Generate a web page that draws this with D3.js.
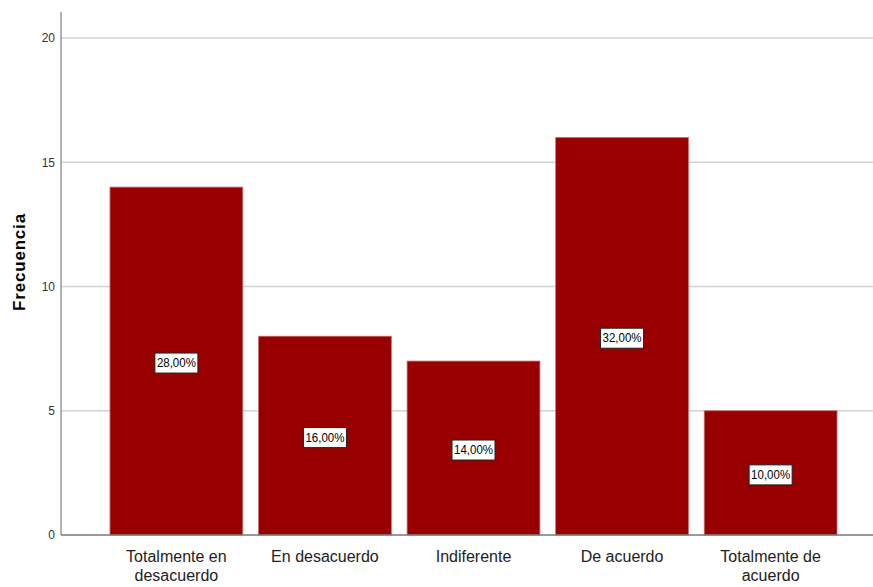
<!DOCTYPE html>
<html><head><meta charset="utf-8">
<script src="https://cdn.jsdelivr.net/npm/d3@7"></script>
<style>body{margin:0;background:#fff}</style>
</head><body>
<script>
const categories = ["Totalmente en desacuerdo","En desacuerdo","Indiferente","De acuerdo","Totalmente de acuerdo"];
const categoryLines = [["Totalmente en","desacuerdo"],["En desacuerdo"],["Indiferente"],["De acuerdo"],["Totalmente de","acuerdo"]];
const frequencies = [14, 8, 7, 16, 5];
const percentLabels = ["28,00%","16,00%","14,00%","32,00%","10,00%"];
const yTicks = [0, 5, 10, 15, 20];
const yTitle = "Frecuencia";

const W = 873, H = 587;
const svg = d3.select("body").append("svg").attr("width", W).attr("height", H);

const y = d3.scaleLinear().domain([0, 20]).range([535, 38]);
const x = d3.scaleBand().domain(categories).range([102.1, 844.9]).paddingInner(0.106).paddingOuter(0.053);

const font = "'Liberation Sans', Arial, sans-serif";

// gridlines
svg.append("g").selectAll("line").data(yTicks.filter(t => t > 0)).join("line")
  .attr("x1", 61).attr("x2", 873).attr("y1", d => y(d)).attr("y2", d => y(d))
  .attr("stroke", "#d2d2d2").attr("stroke-width", 1.5);

// bars
svg.append("g").selectAll("rect").data(frequencies).join("rect")
  .attr("x", (d, i) => x(categories[i]))
  .attr("width", x.bandwidth())
  .attr("y", d => y(d))
  .attr("height", d => y(0) - y(d))
  .attr("fill", "#990000")
  .attr("stroke", "#c87070").attr("stroke-width", 0.8);

// y axis
const yAxis = d3.axisLeft(y).tickValues(yTicks).tickSize(0).tickPadding(6);
const ga = svg.append("g").attr("transform", "translate(61,0)").call(yAxis);
ga.select(".domain").remove();
ga.selectAll("text").attr("font-family", font).attr("font-size", 12).attr("fill", "#333");
svg.append("line").attr("x1", 61).attr("x2", 61).attr("y1", 12).attr("y2", 535)
  .attr("stroke", "#999").attr("stroke-width", 1.5);
svg.append("line").attr("x1", 61).attr("x2", 873).attr("y1", 535).attr("y2", 535)
  .attr("stroke", "#777").attr("stroke-width", 1.5);

// y title
svg.append("text").attr("transform", "translate(25,262) rotate(-90)")
  .attr("text-anchor", "middle").attr("font-family", font).attr("font-weight", "bold")
  .attr("font-size", 17).attr("letter-spacing", 0.8).attr("fill", "#000").text(yTitle);

// x labels
const xl = svg.append("g").selectAll("text").data(categoryLines).join("text")
  .attr("x", (d, i) => x(categories[i]) + x.bandwidth() / 2)
  .attr("y", 562)
  .attr("text-anchor", "middle").attr("font-family", font).attr("font-size", 16).attr("fill", "#222");
xl.selectAll("tspan").data(d => d).join("tspan")
  .attr("x", function() { return this.parentNode.getAttribute("x"); })
  .attr("dy", (d, j) => j === 0 ? 0 : 19)
  .text(d => d);

// percentage labels
const lg = svg.append("g").selectAll("g").data(frequencies).join("g")
  .attr("transform", (d, i) => `translate(${x(categories[i]) + x.bandwidth() / 2},${(y(d) + y(0)) / 2 + 2})`);
lg.append("rect").attr("x", -21.5).attr("y", -10).attr("width", 43).attr("height", 20)
  .attr("fill", "#fff").attr("stroke", "#222").attr("stroke-width", 1);
lg.append("text").attr("text-anchor", "middle").attr("dy", "0.35em")
  .attr("font-family", font).attr("font-size", 12).attr("fill", "#000")
  .attr("textLength", 39).attr("lengthAdjust", "spacingAndGlyphs")
  .text((d, i) => percentLabels[i]);
</script>
</body></html>
